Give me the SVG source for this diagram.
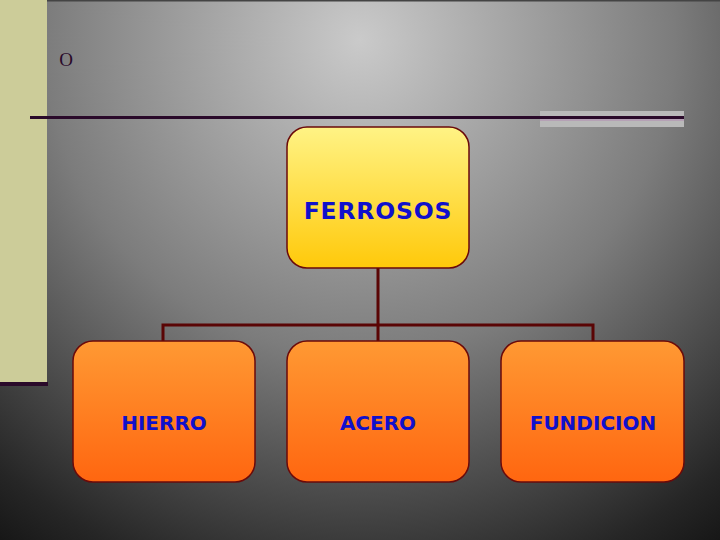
<svg xmlns="http://www.w3.org/2000/svg" width="720" height="540" viewBox="0 0 720 540">
<defs>
<radialGradient id="bg" cx="360" cy="40" r="700" gradientUnits="userSpaceOnUse">
<stop offset="0" stop-color="#cacaca"/>
<stop offset="0.45" stop-color="#7c7c7c"/>
<stop offset="0.8" stop-color="#262626"/>
<stop offset="1" stop-color="#000"/>
</radialGradient>
<linearGradient id="gy" x1="0" y1="0" x2="0" y2="1">
<stop offset="0" stop-color="#fff385"/>
<stop offset="1" stop-color="#ffc90a"/>
</linearGradient>
<linearGradient id="go" x1="0" y1="0" x2="0" y2="1">
<stop offset="0" stop-color="#ff9933"/>
<stop offset="1" stop-color="#ff6610"/>
</linearGradient>
<style>
.box{stroke:#6a0a0a;stroke-width:1.5}
.lbl{font-family:"DejaVu Sans",sans-serif;font-weight:bold;fill:#1010cc;text-anchor:middle}
.conn{stroke:#5a0505;stroke-width:3;fill:none}
</style>
</defs>
<rect width="720" height="540" fill="url(#bg)"/>
<rect x="0" y="0" width="720" height="1.5" fill="#444"/>
<rect x="0" y="0" width="47" height="384" fill="#cccc99"/>
<rect x="0" y="382" width="48" height="4" fill="#2a0a2a"/>
<text x="66" y="66" font-family="Liberation Serif,serif" font-size="19" fill="#2a0a2a" text-anchor="middle">O</text>
<rect x="540" y="111" width="144" height="16" fill="#b9b9b9"/>
<line x1="30" y1="117.5" x2="684" y2="117.5" stroke="#2a0a2a" stroke-width="3"/>
<line x1="540" y1="120" x2="684" y2="120" stroke="#b49ab4" stroke-width="1.5"/>
<g id="connectors">
<path class="conn" d="M378,268 V325 M163,342 V325 H593 V342 M378,325 V342"/>
</g>
<g id="ferrosos">
<rect class="box" x="287" y="127" width="182" height="141" rx="20" fill="url(#gy)"/>
<text class="lbl" x="378" y="219" font-size="23.5" letter-spacing="0.8">FERROSOS</text>
</g>
<g id="hierro">
<rect class="box" x="73" y="341" width="182" height="141" rx="20" fill="url(#go)"/>
<text class="lbl" x="164" y="430" font-size="20">HIERRO</text>
</g>
<g id="acero">
<rect class="box" x="287" y="341" width="182" height="141" rx="20" fill="url(#go)"/>
<text class="lbl" x="378" y="430" font-size="20">ACERO</text>
</g>
<g id="fundicion">
<rect class="box" x="501" y="341" width="183" height="141" rx="20" fill="url(#go)"/>
<text class="lbl" x="593" y="430" font-size="20">FUNDICION</text>
</g>
</svg>
